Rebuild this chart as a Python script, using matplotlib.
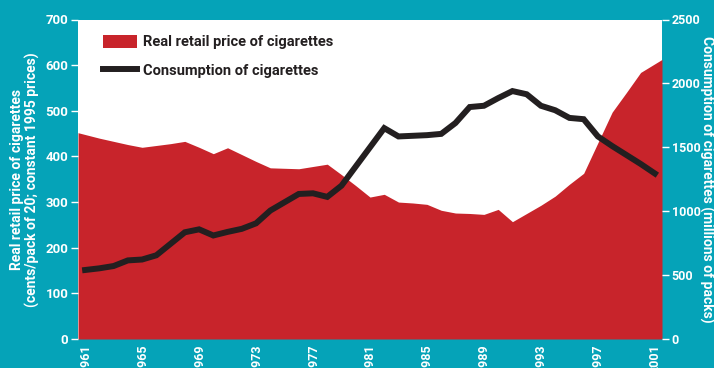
import numpy as np
import matplotlib
matplotlib.use("Agg")
import matplotlib.pyplot as plt
from matplotlib.patches import Patch
from matplotlib.lines import Line2D

years = list(range(1961, 2002))

# real retail price, cents per pack of 20 (constant 1995 prices)
price = [448, 440, 433, 426, 420, 424, 428, 433, 420, 406,
         419, 404, 389, 375, 374, 373, 378, 383, 360, 336,
         311, 317, 300, 298, 295, 282, 276, 275, 273, 284,
         257, 275, 293, 313, 339, 363, 430, 497, 540, 584,
         603]

# consumption, millions of packs
consumption = [540, 553, 571, 615, 622, 655, 745, 835, 858, 810,
               838, 862, 905, 1005, 1070, 1135, 1140, 1112, 1200, 1350,
               1500, 1650, 1585, 1590, 1595, 1605, 1690, 1815, 1825, 1885,
               1940, 1915, 1825, 1790, 1730, 1720, 1585, 1510, 1440, 1370,
               1295]

tick_years = years[::4]
price_ticks = list(range(0, 701, 100))
cons_ticks = list(range(0, 2501, 500))

teal = '#05a3b8'
red = '#c8242b'
ink = '#231f20'

plt.rcParams['font.family'] = ['Roboto', 'DejaVu Sans']
plt.rcParams['font.weight'] = 'bold'
plt.rcParams['axes.labelweight'] = 'bold'

fig = plt.figure(figsize=(7.14, 3.68), dpi=100, facecolor=teal)
ax = fig.add_axes([78 / 714, 1 - 339 / 368, 584 / 714, 319.5 / 368])
ax.set_facecolor('white')

x = np.arange(len(years))
# run the area out to the outer edges of the first and last year slots
p = np.array(price, dtype=float)
xe = np.concatenate([[-0.5], x, [x[-1] + 0.5]])
pe = np.concatenate([[p[0] - (p[1] - p[0]) / 2], p, [p[-1] + (p[-1] - p[-2]) / 2]])
ax.fill_between(xe, pe, color=red, lw=0)

ax.set_xlim(-0.5, len(years) - 0.5)
ax.set_ylim(0, 700)
ax.set_xticks(x[::4])
ax.set_xticklabels([str(y) for y in tick_years], rotation=90, va='top')
ax.set_yticks(price_ticks)
ax.tick_params(axis='x', length=0, pad=4, colors='white', labelsize=9)
ax.tick_params(axis='y', length=5, width=1, pad=2, colors='white', labelsize=9.5)
for s in ax.spines.values():
    s.set_visible(False)
ax.set_ylabel('Real retail price of cigarettes\n(cents/pack of 20; constant 1995 prices)',
              color='white', fontsize=10, linespacing=1.05, ha='center', va='center')
ax.yaxis.set_label_coords(-0.091, 0.5)

ax2 = ax.twinx()
ax2.plot(x, consumption, color=ink, lw=4.3, solid_joinstyle='miter')
ax2.set_ylim(0, 2500)
ax2.set_yticks(cons_ticks)
ax2.tick_params(axis='y', length=5, width=1, pad=2, colors='white', labelsize=9)
for s in ax2.spines.values():
    s.set_visible(False)
ax2.set_ylabel('Consumption of cigarettes (millions of packs)', color='white',
               fontsize=10, rotation=270, ha='center', va='center')
ax2.yaxis.set_label_coords(1.077, 0.5)

handles = [Patch(color=red, lw=0), Line2D([], [], color=ink, lw=4.3)]
labels = ['Real retail price of cigarettes', 'Consumption of cigarettes']
ax2.legend(handles, labels, loc='upper left', bbox_to_anchor=(0.043, 0.953),
           frameon=False, fontsize=10.5, handlelength=2.3, handleheight=1.05,
           handletextpad=0.45, labelspacing=0.95, borderpad=0, borderaxespad=0,
           labelcolor=ink)

fig.savefig('out.png', dpi=100, facecolor=teal)
